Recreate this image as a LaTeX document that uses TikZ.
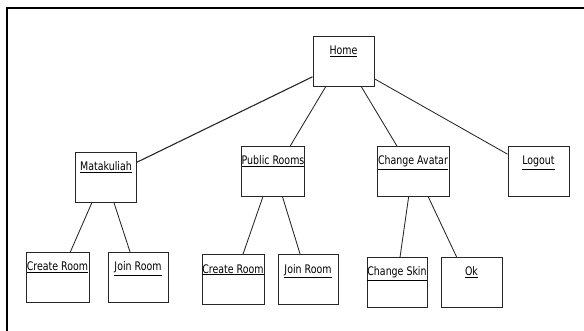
\documentclass[tikz,border=0pt]{standalone}
\usepackage{fontspec}
\setmainfont{DejaVu Sans}[FakeStretch=0.8]
\usetikzlibrary{calc}

\begin{document}
\begin{tikzpicture}[x=1pt, y=1pt, font=\fontsize{11.8}{14}\selectfont,
  screen/.style={draw=black!85, line width=1pt, anchor=north, minimum width=61pt,
    inner xsep=0pt, inner ysep=0pt, text height=18.5pt, text depth=31.5pt},
  link/.style={draw=black!85, line width=0.85pt}]
\useasboundingbox (0,0) rectangle (584,-331);

\draw[line width=1.8pt] (7,-331) -- (7,-8) -- (584,-8);

% top level
\node[screen] (home) at (343.5,-36) {\underline{Home}};

\node[screen] (mk) at (106,-152) {\underline{Matakuliah}};
\node[screen, minimum width=62pt] (pub) at (273,-146) {\underline{Public Rooms}};
\node[screen, minimum width=72pt] (avatar) at (413,-146) {\underline{Change Avatar}};
\node[screen] (logout) at (538.5,-146) {\underline{Logout}};

% leaves
\node[screen, minimum width=63pt] (mkcreate) at (57.5,-252) {\underline{Create Room}};
\node[screen, minimum width=60pt] (mkjoin) at (138,-252) {\underline{Join Room}};
\node[screen, minimum width=62pt] (pubcreate) at (233,-254) {\underline{Create Room}};
\node[screen, minimum width=60pt] (pubjoin) at (308,-254) {\underline{Join Room}};
\node[screen, minimum width=60pt] (skin) at (397,-257) {\underline{Change Skin}};
\node[screen] (ok) at (471.5,-257) {\underline{Ok}};

\draw[link, line width=1.1pt] ($(home.south west)!0.2!(home.north west)$) -- ($(mk.north east)!0.2!(mk.south east)$);
\draw[link] ($(home.south west)!0.21!(home.south east)$) -- ($(pub.north west)!0.77!(pub.north east)$);
\draw[link] ($(home.south west)!0.79!(home.south east)$) -- ($(avatar.north west)!0.28!(avatar.north east)$);
\draw[link] ($(home.south east)!0.16!(home.north east)$) -- ($(logout.north west)!0.16!(logout.south west)$);

\draw[link] ($(mk.south west)!0.27!(mk.south east)$) -- ($(mkcreate.north west)!0.7!(mkcreate.north east)$);
\draw[link] ($(mk.south west)!0.63!(mk.south east)$) -- ($(mkjoin.north west)!0.37!(mkjoin.north east)$);

\draw[link] ($(pub.south west)!0.34!(pub.south east)$) -- ($(pubcreate.north west)!0.66!(pubcreate.north east)$);
\draw[link] ($(pub.south west)!0.65!(pub.south east)$) -- ($(pubjoin.north west)!0.37!(pubjoin.north east)$);

\draw[link] ($(avatar.south west)!0.44!(avatar.south east)$) -- ($(skin.north west)!0.55!(skin.north east)$);
\draw[link] ($(avatar.south west)!0.71!(avatar.south east)$) -- ($(ok.north west)!0.26!(ok.north east)$);

\end{tikzpicture}
\end{document}
